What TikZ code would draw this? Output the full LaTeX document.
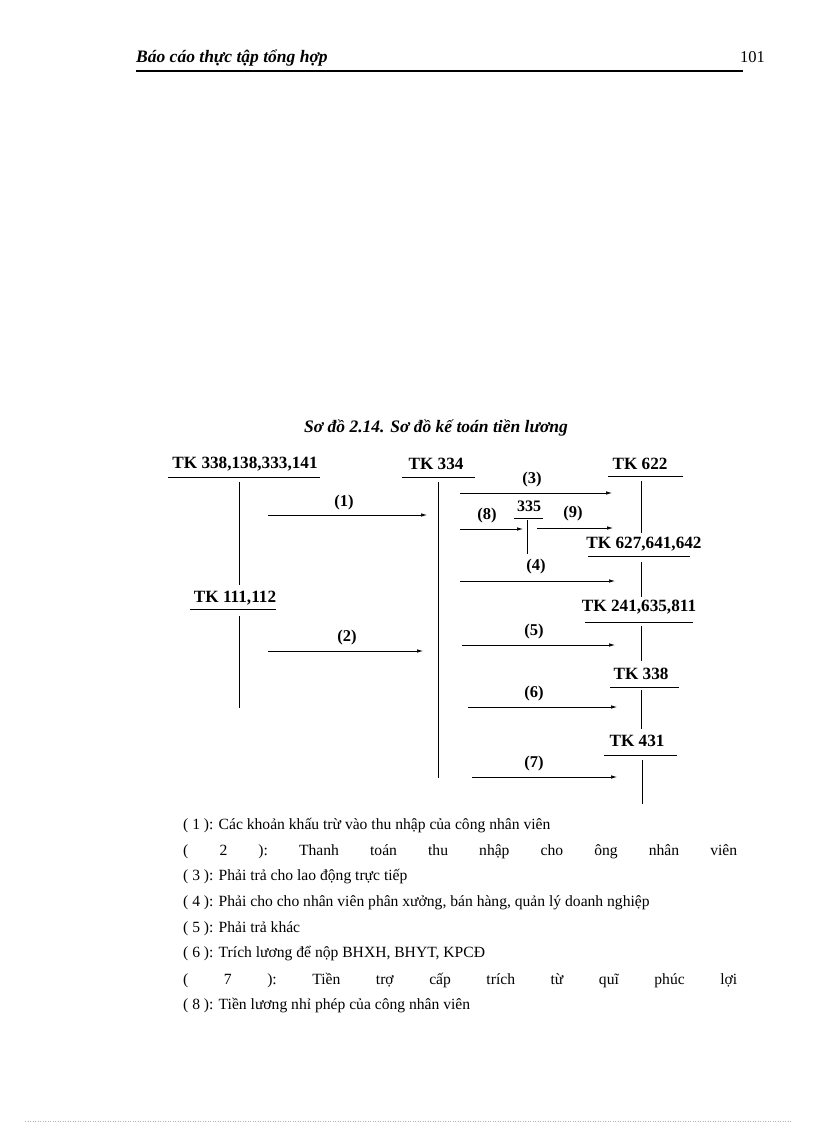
\documentclass[tikz,border=0pt]{standalone}
\usepackage{fontspec}
\setmainfont{Liberation Serif}
\usetikzlibrary{arrows.meta}
\begin{document}
\begin{tikzpicture}[x=1pt,y=-1pt,
 acct/.style={font=\bfseries\fontsize{17.2}{19}\selectfont, inner sep=0pt},
 num/.style={font=\bfseries\fontsize{16.5}{18}\selectfont, inner sep=0pt},
 small/.style={font=\bfseries\fontsize{16}{18}\selectfont, inner sep=0pt},
 flow/.style={-{Latex[length=6pt,width=3.5pt]}, line width=0.7pt},
 tline/.style={line width=0.7pt},
 legend/.style={font=\fontsize{15.6}{18}\selectfont, anchor=west, inner sep=0pt}]
\useasboundingbox (0,0) rectangle (816,1123);

% header
\node[anchor=west, inner sep=0pt, font=\bfseries\itshape\fontsize{17.5}{19}\selectfont] (hdr) at (136,58) {Báo cáo thực tập tổng hợp};
\node[anchor=east, inner sep=0pt, font=\fontsize{16.5}{18}\selectfont] (pg) at (765,57) {101};
\coordinate (hl) at (136,71); \coordinate (hr) at (743,71);
\draw[line width=1.6pt] (hl) -- (hr);

% caption
\node[inner sep=0pt, font=\bfseries\itshape\fontsize{17.5}{19}\selectfont] (cap) at (436,428) {Sơ đồ 2.14. Sơ đồ kế toán tiền lương};

% left accounts
\node[acct] (tkA) at (245,464) {TK 338,138,333,141};
\coordinate (uA1) at (168,477); \coordinate (uA2) at (320,477);
\draw[tline] (uA1) -- (uA2);
\coordinate (vA1) at (239,482); \coordinate (vA2) at (239,585);
\draw[tline] (vA1) -- (vA2);

\node[acct] (tkB) at (235,598) {TK 111,112};
\coordinate (uB1) at (190,609); \coordinate (uB2) at (276,609);
\draw[tline] (uB1) -- (uB2);
\coordinate (vB1) at (239,616); \coordinate (vB2) at (239,708);
\draw[tline] (vB1) -- (vB2);

% TK 334
\node[acct] (tkC) at (436,464) {TK 334};
\coordinate (uC1) at (402,477); \coordinate (uC2) at (475,477);
\draw[tline] (uC1) -- (uC2);
\coordinate (vC1) at (438,482); \coordinate (vC2) at (438,778);
\draw[tline] (vC1) -- (vC2);

% arrows left
\coordinate (a1s) at (268,515); \coordinate (a1e) at (427,515);
\draw[flow] (a1s) -- (a1e);
\node[num] (l1) at (344,503) {(1)};
\coordinate (a2s) at (268,651); \coordinate (a2e) at (423,651);
\draw[flow] (a2s) -- (a2e);
\node[num] (l2) at (347,638) {(2)};

% TK 622
\node[acct] (tkD) at (640,464) {TK 622};
\coordinate (uD1) at (608,476); \coordinate (uD2) at (683,476);
\draw[tline] (uD1) -- (uD2);
\coordinate (vD1) at (641,481); \coordinate (vD2) at (641,533);
\draw[tline] (vD1) -- (vD2);

\coordinate (a3s) at (460,493); \coordinate (a3e) at (612,493);
\draw[flow] (a3s) -- (a3e);
\node[num] (l3) at (532,480) {(3)};

% 335
\node[small] (t335) at (529,506) {335};
\coordinate (u51) at (514,518); \coordinate (u52) at (543,518);
\draw[tline] (u51) -- (u52);
\coordinate (v51) at (527,520); \coordinate (v52) at (527,554);
\draw[tline] (v51) -- (v52);
\coordinate (a8s) at (460,529); \coordinate (a8e) at (523,529);
\draw[flow] (a8s) -- (a8e);
\node[num] (l8) at (487,516) {(8)};
\coordinate (a9s) at (537,528); \coordinate (a9e) at (613,528);
\draw[flow] (a9s) -- (a9e);
\node[num] (l9) at (573,514) {(9)};

% TK 627
\node[acct] (tkE) at (644,544) {TK 627,641,642};
\coordinate (uE1) at (588,556); \coordinate (uE2) at (690,556);
\draw[tline] (uE1) -- (uE2);
\coordinate (vE1) at (641,562); \coordinate (vE2) at (641,597);
\draw[tline] (vE1) -- (vE2);
\coordinate (a4s) at (460,581); \coordinate (a4e) at (615,581);
\draw[flow] (a4s) -- (a4e);
\node[num] (l4) at (536,567) {(4)};

% TK 241
\node[acct] (tkF) at (639,607) {TK 241,635,811};
\coordinate (uF1) at (585,622); \coordinate (uF2) at (693,622);
\draw[tline] (uF1) -- (uF2);
\coordinate (vF1) at (641,626); \coordinate (vF2) at (641,661);
\draw[tline] (vF1) -- (vF2);
\coordinate (a5s) at (462,645); \coordinate (a5e) at (615,645);
\draw[flow] (a5s) -- (a5e);
\node[num] (l5) at (534,632) {(5)};

% TK 338
\node[acct] (tkG) at (641,674) {TK 338};
\coordinate (uG1) at (610,687); \coordinate (uG2) at (679,687);
\draw[tline] (uG1) -- (uG2);
\coordinate (vG1) at (641,690); \coordinate (vG2) at (641,729);
\draw[tline] (vG1) -- (vG2);
\coordinate (a6s) at (468,707); \coordinate (a6e) at (617,707);
\draw[flow] (a6s) -- (a6e);
\node[num] (l6) at (534,694) {(6)};

% TK 431
\node[acct] (tkH) at (637,741) {TK 431};
\coordinate (uH1) at (604,755); \coordinate (uH2) at (677,755);
\draw[tline] (uH1) -- (uH2);
\coordinate (vH1) at (642,760); \coordinate (vH2) at (642,804);
\draw[tline] (vH1) -- (vH2);
\coordinate (a7s) at (472,777); \coordinate (a7e) at (617,777);
\draw[flow] (a7s) -- (a7e);
\node[num] (l7) at (534,764) {(7)};

% legend
\node[legend] (g1) at (183,826) {( 1 ): Các khoản khấu trừ vào thu nhập của công nhân viên};
\node[legend] (g2) at (183,852) {\hbox to 554pt{(\hfill 2\hfill ):\hfill Thanh\hfill toán\hfill thu\hfill nhập\hfill cho\hfill ông\hfill nhân\hfill viên}};
\node[legend] (g3) at (183,877) {( 3 ): Phải trả cho lao động trực tiếp};
\node[legend] (g4) at (183,903) {( 4 ): Phải cho cho nhân viên phân xưởng, bán hàng, quản lý doanh nghiệp};
\node[legend] (g5) at (183,929) {( 5 ): Phải trả khác};
\node[legend] (g6) at (183,954) {( 6 ): Trích lương để nộp BHXH, BHYT, KPCĐ};
\node[legend] (g7) at (183,980) {\hbox to 554pt{(\hfill 7\hfill ):\hfill Tiền\hfill trợ\hfill cấp\hfill trích\hfill từ\hfill quĩ\hfill phúc\hfill lợi}};
\node[legend] (g8) at (183,1006) {( 8 ): Tiền lương nhỉ phép của công nhân viên};

% footer dotted rule
\coordinate (f1) at (25,1121); \coordinate (f2) at (792,1121);
\draw[gray!60, dotted, line width=0.5pt] (f1) -- (f2);
\end{tikzpicture}
\end{document}
